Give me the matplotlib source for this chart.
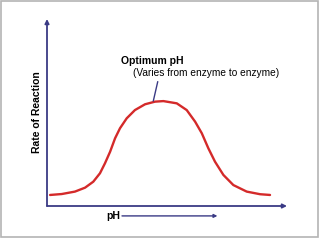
import matplotlib
matplotlib.use("Agg")
import matplotlib.pyplot as plt
from matplotlib.patches import Rectangle

plt.rcParams["font.family"] = ["Liberation Sans", "DejaVu Sans"]

# curve (pH, relative rate of reaction)
ph = [0.18, 0.86, 1.63, 2.22, 2.70, 3.09, 3.38, 3.68, 3.97, 4.26, 4.65,
      5.13, 5.72, 6.30, 6.79, 7.57, 8.15, 8.64, 9.03, 9.41, 9.80, 10.29,
      10.87, 11.65, 12.43, 13.01]
rate = [5.9, 6.4, 7.7, 9.8, 13.0, 17.5, 22.8, 29.0, 36.2, 41.6, 46.9,
        51.3, 54.4, 55.8, 56.1, 54.9, 51.3, 45.1, 38.9, 30.9, 23.7, 16.6,
        11.2, 7.7, 6.3, 5.9]

optimum_ph = 6.2
optimum_rate = 55.8
title_text = "Optimum pH"
note_text = "(Varies from enzyme to enzyme)"
ylabel_text = "Rate of Reaction"
xlabel_text = "pH"

axis_color = "#3a3a85"
curve_color = "#d42a2a"

fig = plt.figure(figsize=(3.2, 2.4), dpi=100)
fig.patch.set_facecolor("white")

# light grey frame around the slide
fig.patches.append(Rectangle((0.003, 0.012), 0.99, 0.983, transform=fig.transFigure,
                             fill=False, edgecolor="#b4b4b4", linewidth=1.2))

ax = fig.add_axes([47 / 320, 34 / 240, 240 / 320, 187 / 240])
ax.set_xlim(0, 14)
ax.set_ylim(0, 100)
for s in ax.spines.values():
    s.set_visible(False)
ax.set_xticks([])
ax.set_yticks([])
ax.patch.set_alpha(0)

# axes with arrow heads
arrow = dict(arrowstyle="-|>", color=axis_color, lw=1.3, mutation_scale=6,
             shrinkA=0, shrinkB=0)
ax.annotate("", xy=(0, 1), xytext=(0, 0), xycoords="axes fraction", arrowprops=arrow)
ax.annotate("", xy=(1, 0), xytext=(0, 0), xycoords="axes fraction", arrowprops=arrow)

ax.plot(ph, rate, color=curve_color, lw=1.7, solid_joinstyle="round",
        solid_capstyle="round")

# optimum annotation
ax.annotate("", xy=(optimum_ph, optimum_rate + 0.3), xytext=(6.46, 66.5),
            arrowprops=dict(arrowstyle="-", color=axis_color, lw=1.0,
                            shrinkA=0, shrinkB=0))
ax.text(4.32, 77.5, title_text, fontsize=7.5, fontweight="bold",
        ha="left", va="center", color="black")
ax.text(5.02, 71.1, note_text, fontsize=7.3, ha="left", va="center", color="black")

# axis labels
ax.text(-0.042, 0.503, ylabel_text, transform=ax.transAxes, rotation=90,
        fontsize=7.5, fontweight="bold", ha="center", va="center")
ax.text(0.275, -0.053, xlabel_text, transform=ax.transAxes,
        fontsize=7.5, fontweight="bold", ha="center", va="center")
ax.annotate("", xy=(0.71, -0.053), xytext=(0.3125, -0.053), xycoords="axes fraction",
            arrowprops=dict(arrowstyle="-|>", color=axis_color, lw=1.0,
                            mutation_scale=5, shrinkA=0, shrinkB=0))

fig.savefig("out.png", dpi=100)
